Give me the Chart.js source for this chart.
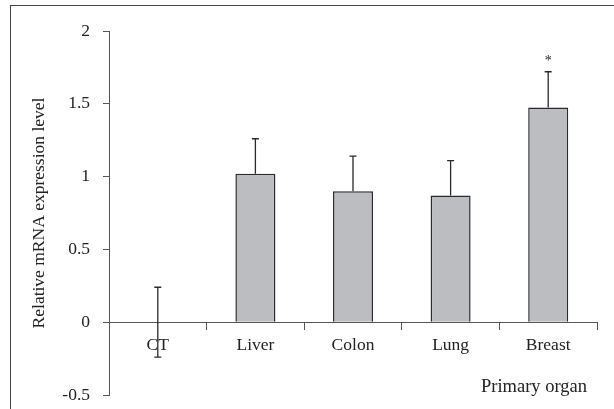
<!DOCTYPE html>
<html>
<head>
<meta charset="utf-8">
<script src="https://cdn.jsdelivr.net/npm/chart.js@4"></script>
<style>
  html, body { margin: 0; padding: 0; background: #fff; }
  #wrap { position: relative; width: 614px; height: 409px; }
  #frame { position: absolute; left: 10px; top: 5px; right: 0; bottom: 0;
           border-top: 1px solid #444; border-left: 1px solid #444; }
  canvas { position: absolute; left: 0; top: 0; }
</style>
</head>
<body>
<div id="wrap">
  <div id="frame"></div>
  <canvas id="chart" width="614" height="409"></canvas>
</div>
<script>
// --- data ---
const organs = ['CT', 'Liver', 'Colon', 'Lung', 'Breast'];
const expression = [0, 1.02, 0.90, 0.87, 1.475];
const sdValues = [0.24, 0.24, 0.24, 0.24, 0.245];
const significance = ['', '', '', '', '*'];
const yTicks = [-0.5, 0, 0.5, 1, 1.5, 2];

const serif = "'Liberation Serif', 'DejaVu Serif', serif";
const inkColor = '#222';
const axisColor = '#555';

// error bars + asterisk, drawn through the chart's own scales
const errorBars = {
    id: 'errorBars',
    afterDatasetsDraw(chart) {
        const { ctx, scales } = chart;
        const meta = chart.getDatasetMeta(0);
        ctx.save();
        ctx.strokeStyle = '#2a2a2a';
        ctx.lineWidth = 1.3;
        meta.data.forEach((bar, i) => {
            const x = bar.x;
            const v = expression[i];
            const top = scales.y.getPixelForValue(v + sdValues[i]);
            const base = scales.y.getPixelForValue(v);
            ctx.beginPath();
            ctx.moveTo(x, base);
            ctx.lineTo(x, top);
            ctx.moveTo(x - 3.5, top);
            ctx.lineTo(x + 3.5, top);
            if (v <= 0) {
                const low = scales.y.getPixelForValue(v - sdValues[i]);
                ctx.moveTo(x, base);
                ctx.lineTo(x, low);
                ctx.moveTo(x - 3.5, low);
                ctx.lineTo(x + 3.5, low);
            }
            ctx.stroke();
            if (significance[i]) {
                ctx.fillStyle = inkColor;
                ctx.font = `14px ${serif}`;
                ctx.textAlign = 'center';
                ctx.textBaseline = 'alphabetic';
                ctx.fillText(significance[i], x, top - 7);
            }
        });
        // x axis title, bottom right
        ctx.fillStyle = inkColor;
        ctx.font = `18.5px ${serif}`;
        ctx.textAlign = 'right';
        ctx.textBaseline = 'middle';
        ctx.fillText('Primary organ', chart.chartArea.right - 10, 387);
        ctx.restore();
    }
};

function noPad(s) {
    s.paddingTop = 0;
    s.paddingBottom = 0;
    s.paddingLeft = 0;
    s.paddingRight = 0;
}

new Chart(document.getElementById('chart'), {
    type: 'bar',
    data: {
        labels: organs,
        datasets: [{
            data: expression,
            backgroundColor: '#bcbdc0',
            borderColor: '#2b2b2b',
            borderWidth: 1.5,
            barPercentage: 0.41,
            categoryPercentage: 1
        }]
    },
    options: {
        responsive: false,
        animation: false,
        layout: { padding: { left: 9, right: 17, top: 31, bottom: 14 } },
        plugins: { legend: { display: false }, tooltip: { enabled: false } },
        scales: {
            x: {
                position: { y: 0 },
                afterFit: (s) => { s.height = 0; noPad(s); },
                grid: { drawOnChartArea: false, drawTicks: true, tickLength: 7, color: axisColor },
                border: { display: true, color: axisColor, width: 1 },
                ticks: { color: inkColor, padding: 6, font: { family: serif, size: 17.5 } }
            },
            y: {
                min: -0.5,
                max: 2,
                afterFit: (s) => { s.width = 100; noPad(s); },
                afterBuildTicks: (s) => { s.ticks = yTicks.map(v => ({ value: v })); },
                grid: { drawOnChartArea: false, drawTicks: true, tickLength: 6, color: axisColor },
                border: { display: true, color: axisColor, width: 1 },
                ticks: {
                    color: inkColor, padding: 13,
                    font: { family: serif, size: 17.5 },
                    callback: (v) => String(v)
                },
                title: {
                    display: true,
                    text: 'Relative mRNA expression level',
                    color: inkColor,
                    font: { family: serif, size: 17.5 },
                    padding: { top: 20, bottom: 0 }
                }
            }
        }
    },
    plugins: [errorBars]
});
</script>
</body>
</html>
